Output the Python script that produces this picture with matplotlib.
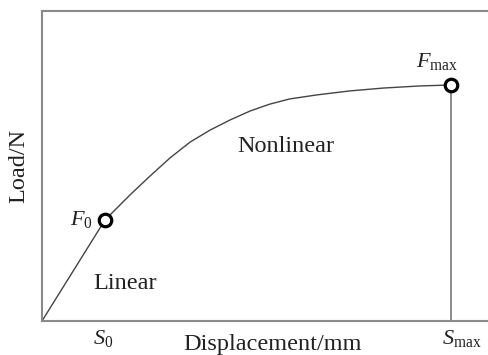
import matplotlib
matplotlib.use("Agg")
import matplotlib.pyplot as plt
from matplotlib.transforms import blended_transform_factory

plt.rcParams['font.family'] = ['Liberation Serif', 'DejaVu Serif']
plt.rcParams['mathtext.fontset'] = 'custom'
plt.rcParams['mathtext.rm'] = 'Liberation Serif'
plt.rcParams['mathtext.it'] = 'Liberation Serif:italic'

# load-displacement curve (arbitrary units, Smax = Fmax = 10)
displacement = [0, 1.54, 2.15, 2.64, 3.13, 3.62, 4.11, 4.60, 5.09, 5.57, 6.06,
                6.72, 7.53, 8.34, 9.24, 10.0]
load = [0, 4.28, 5.34, 6.14, 6.91, 7.58, 8.09, 8.52, 8.90, 9.19, 9.41,
        9.58, 9.75, 9.87, 9.96, 10.0]

s0, f0 = 1.54, 4.28
s_max, f_max = 10.0, 10.0

W, H = 488, 355
fig = plt.figure(figsize=(W / 100, H / 100), dpi=100)
ax = fig.add_axes([42 / W, (H - 321) / H, 1 - 42 / W + 0.01, (321 - 11) / H])

ax.plot(displacement, load, color='#444444', lw=1.0, solid_joinstyle='round')
ax.plot([s_max, s_max], [0, f_max], color='#777777', lw=1.2)
ax.plot([s0, s_max], [f0, f_max], 'o', ms=9, mfc='white', mec='black', mew=2.3,
        zorder=5)

ax.set_xlim(0, (446 + 0.01 * W) / 40.9)
ax.set_ylim(0, 310 / 23.6)
ax.set_xticks([])
ax.set_yticks([])
for side in ['left', 'top', 'bottom']:
    ax.spines[side].set_color('#8a8a8a')
    ax.spines[side].set_linewidth(1.5)
ax.spines['right'].set_visible(False)

txt = dict(color='#222222', fontsize=17.5)
ax.text(5.95, 7.4, 'Nonlinear', ha='center', va='center', **txt)
ax.text(2.03, 1.6, 'Linear', ha='center', va='center', **txt)
ax.text(0.97, 4.32, r'$F_{\rm 0}$', ha='center', va='center', color='#222222', fontsize=16)
ax.text(9.66, 11.0, r'$F_{\rm max}$', ha='center', va='center', color='#222222', fontsize=16)

trans = blended_transform_factory(ax.transData, ax.transAxes)
ax.text(s0 - 0.05, -0.055, r'$S_{\rm 0}$', transform=trans, ha='center', va='center',
        color='#222222', fontsize=16)
ax.text(s_max - 0.22, -0.055, r'$S_{\rm max}$', transform=trans, ha='left', va='center',
        color='#222222', fontsize=16)

ax.text(0.511, -0.077, 'Displacement/mm', transform=ax.transAxes, ha='center',
        va='center', **txt)
ax.text(-0.052, 0.5, 'Load/N', transform=ax.transAxes, rotation=90, ha='center',
        va='center', **txt)

fig.savefig('out.png', dpi=100)
